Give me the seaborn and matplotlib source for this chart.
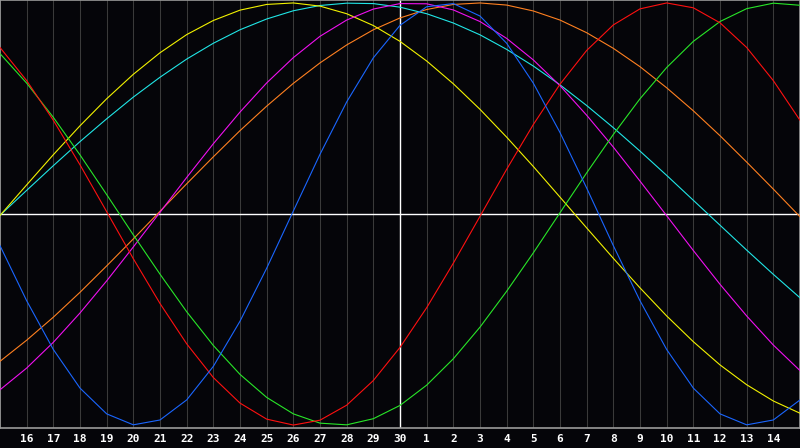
import pandas as pd
import matplotlib
matplotlib.use("Agg")
import matplotlib.pyplot as plt
import seaborn as sns

# day labels on the inner grid lines (grid runs from day 15 to day 15 of next month)
day_labels = [str(d) for d in range(16, 31)] + [str(d) for d in range(1, 15)]

# curve values read at each daily grid line (31 points, day 15 .. next 15)
physical = [-0.150, -0.411, -0.642, -0.825, -0.947, -0.999, -0.976, -0.881, -0.722, -0.508,
            -0.257, 0.014, 0.283, 0.531, 0.740, 0.894, 0.982, 0.997, 0.938, 0.809,
            0.620, 0.386, 0.123, -0.150, -0.411, -0.642, -0.825, -0.947, -0.999, -0.976, -0.881]
emotional = [0.789, 0.632, 0.444, 0.233, 0.011, -0.212, -0.424, -0.615, -0.775, -0.896,
             -0.972, -1.000, -0.977, -0.906, -0.789, -0.632, -0.444, -0.233, -0.011, 0.212,
             0.424, 0.615, 0.775, 0.896, 0.972, 1.000, 0.977, 0.906, 0.789, 0.632, 0.444]
intellectual = [0.760, 0.620, 0.458, 0.280, 0.092, -0.099, -0.285, -0.463, -0.623, -0.760,
                -0.869, -0.947, -0.991, -0.999, -0.970, -0.907, -0.811, -0.686, -0.536, -0.366,
                -0.184, 0.006, 0.195, 0.377, 0.546, 0.694, 0.818, 0.912, 0.973, 0.999, 0.989]
intuitive = [-0.833, -0.730, -0.608, -0.469, -0.317, -0.156, 0.008, 0.173, 0.333, 0.483,
             0.621, 0.741, 0.842, 0.919, 0.971, 0.997, 0.996, 0.967, 0.912, 0.832,
             0.730, 0.608, 0.468, 0.317, 0.156, -0.008, -0.173, -0.333, -0.483, -0.621, -0.742]
aesthetic = [-0.007, 0.138, 0.281, 0.418, 0.546, 0.662, 0.764, 0.850, 0.917, 0.966,
             0.993, 1.000, 0.985, 0.949, 0.893, 0.818, 0.725, 0.617, 0.496, 0.364,
             0.225, 0.080, -0.066, -0.210, -0.350, -0.483, -0.605, -0.715, -0.809, -0.886, -0.944]
awareness = [-0.698, -0.598, -0.489, -0.371, -0.246, -0.118, 0.013, 0.143, 0.271, 0.395,
             0.511, 0.619, 0.716, 0.801, 0.873, 0.929, 0.969, 0.993, 1.000, 0.990,
             0.962, 0.919, 0.859, 0.785, 0.698, 0.598, 0.489, 0.371, 0.246, 0.118, -0.013]
spiritual = [-0.006, 0.112, 0.229, 0.343, 0.451, 0.554, 0.648, 0.734, 0.809, 0.873,
             0.924, 0.963, 0.988, 0.999, 0.997, 0.980, 0.949, 0.905, 0.849, 0.780,
             0.701, 0.612, 0.514, 0.409, 0.298, 0.183, 0.065, -0.053, -0.171, -0.286, -0.397]

series = {
    "Awareness": awareness,
    "Spiritual": spiritual,
    "Aesthetic": aesthetic,
    "Intuitive": intuitive,
    "Intellectual": intellectual,
    "Emotional": emotional,
    "Physical": physical,
}
palette = {
    "Physical": "#1a66ff",
    "Emotional": "#ff1010",
    "Intellectual": "#28e628",
    "Intuitive": "#f010f0",
    "Aesthetic": "#f2f200",
    "Awareness": "#ff8020",
    "Spiritual": "#20e6e6",
}

rows = []
for name, vals in series.items():
    for i, v in enumerate(vals):
        rows.append({"day": i, "value": v, "curve": name})
df = pd.DataFrame(rows)

bg = "#050509"
sns.set_style("dark", {"axes.facecolor": bg, "figure.facecolor": bg})

fig = plt.figure(figsize=(8, 4.48), dpi=100)
ax = fig.add_axes([0, 20 / 448, 1, 428 / 448])
ax.set_facecolor(bg)

sns.lineplot(data=df, x="day", y="value", hue="curve", palette=palette,
             hue_order=list(series.keys()), sort=False, linewidth=0.8,
             legend=False, ax=ax, zorder=3)

ax.set_xlim(0, 30)
ax.set_ylim(-1.014, 1.014)

ticks = list(range(0, 31))
ax.set_xticks(ticks)
ax.set_xticklabels([""] + day_labels + [""], color="white",
                   fontfamily="DejaVu Sans Mono", fontweight="bold", fontsize=8)
ax.tick_params(axis="x", length=0, pad=4.5)
ax.set_yticks([])
ax.grid(axis="x", color="#3a3a3a", linewidth=0.75, zorder=1)
ax.grid(axis="y", visible=False)

ax.axhline(0, color="white", linewidth=1.0, zorder=2)
ax.axvline(15, color="white", linewidth=1.0, zorder=2)

for side in ["left", "right", "top", "bottom"]:
    ax.spines[side].set_visible(True)
    ax.spines[side].set_color("#9a9a9a")
    ax.spines[side].set_linewidth(1.2)

ax.set_xlabel("")
ax.set_ylabel("")

fig.savefig("out.png", dpi=100, facecolor=bg)
plt.close(fig)
